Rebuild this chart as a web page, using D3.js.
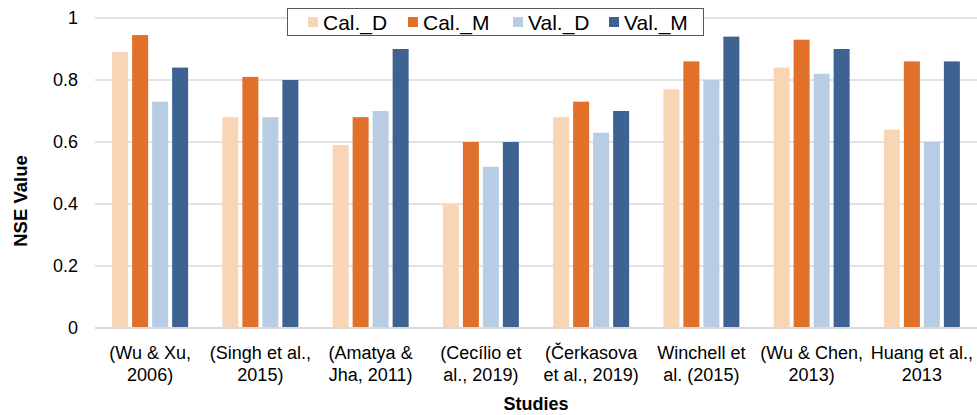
<!DOCTYPE html>
<html><head><meta charset="utf-8">
<script src="https://cdn.jsdelivr.net/npm/d3@7"></script>
<style>body{margin:0;background:#fff;} svg{display:block;}</style>
</head><body><svg id="c" width="977" height="415" font-family="'Liberation Sans', Arial, Helvetica, sans-serif"></svg>
<script>
const categories = [["(Wu & Xu,","2006)"],["(Singh et al.,","2015)"],["(Amatya &","Jha, 2011)"],["(Cecílio et","al., 2019)"],["(Čerkasova","et al., 2019)"],["Winchell et","al. (2015)"],["(Wu & Chen,","2013)"],["Huang et al.,","2013"]];
const seriesNames = ["Cal._D","Cal._M","Val._D","Val._M"];
const calD = [0.89,0.68,0.59,0.40,0.68,0.77,0.84,0.64];
const calM = [0.945,0.81,0.68,0.60,0.73,0.86,0.93,0.86];
const valD = [0.73,0.68,0.70,0.52,0.63,0.80,0.82,0.60];
const valM = [0.84,0.80,0.90,0.60,0.70,0.94,0.90,0.86];
const yTicks = [0,0.2,0.4,0.6,0.8,1];
const colors = ["#F8D5B4","#E0702A","#B8CCE4","#3E6392"];
const series = [calD,calM,valD,valM];

const svg = d3.select("#c");
const pL=95, pR=977, pT=18, pB=328;
const x = d3.scaleBand().domain(d3.range(categories.length)).range([pL,pR]);
const xs = d3.scaleBand().domain(d3.range(4)).range([0,80]).paddingInner(0.2).paddingOuter(0.1);
const y = d3.scaleLinear().domain([0,1]).range([pB,pT]);

// gridlines
svg.append("g").selectAll("line").data(yTicks.slice(1)).join("line")
  .attr("x1",pL).attr("x2",pR).attr("y1",d=>y(d)).attr("y2",d=>y(d))
  .attr("stroke","#d9d9d9").attr("stroke-width",1.5);

// bars
const g = svg.append("g");
series.forEach((s,si)=>{
  g.append("g").selectAll("rect").data(s).join("rect")
    .attr("x",(d,i)=>x(i)+x.bandwidth()/2-40+xs(si))
    .attr("width",xs.bandwidth())
    .attr("y",d=>y(d)).attr("height",d=>y(0)-y(d))
    .attr("fill",colors[si]);
});

// x axis line
svg.append("line").attr("x1",pL).attr("x2",pR).attr("y1",pB).attr("y2",pB)
  .attr("stroke","#d9d9d9").attr("stroke-width",2);

// y tick labels
svg.append("g").selectAll("text").data(yTicks).join("text")
  .attr("x",78).attr("y",d=>y(d)+6).attr("text-anchor","end")
  .attr("font-size",18).attr("fill","#000").text(d=>d===0||d===1?d:d.toFixed(1));

// x labels
const xl = svg.append("g").selectAll("text").data(categories).join("text")
  .attr("text-anchor","middle").attr("font-size",18).attr("fill","#000");
xl.each(function(d,i){
  const t=d3.select(this);
  d.forEach((line,li)=>t.append("tspan").attr("x",x(i)+x.bandwidth()/2).attr("y",359+li*22).text(line));
});

// axis titles
svg.append("text").attr("x",536).attr("y",410).attr("text-anchor","middle")
  .attr("font-size",18).attr("font-weight","bold").text("Studies");
svg.append("text").attr("transform","translate(27,201) rotate(-90)").attr("text-anchor","middle")
  .attr("font-size",18.5).attr("font-weight","bold").text("NSE Value");

// legend
const lg = svg.append("g");
lg.append("rect").attr("x",287.5).attr("y",8.5).attr("width",416).attr("height",27)
  .attr("fill","#fff").attr("stroke","#595959").attr("stroke-width",1);
const lx=[308,408,513,609];
seriesNames.forEach((n,i)=>{
  lg.append("rect").attr("x",lx[i]).attr("y",17).attr("width",10).attr("height",10).attr("fill",colors[i]);
  lg.append("text").attr("x",lx[i]+15).attr("y",30).attr("font-size",21).text(n);
});
</script></body></html>
